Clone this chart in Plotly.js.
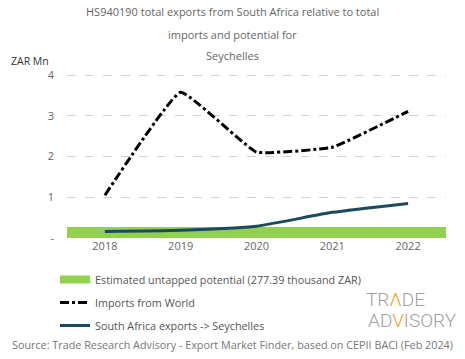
<!DOCTYPE html>
<html><head><meta charset="utf-8">
<script src="https://cdn.plot.ly/plotly-3.0.1.min.js"></script>
<style>html,body{margin:0;padding:0;background:#fff}#c{width:465px;height:359px}</style>
</head><body><div id="c"></div>
<script>
const years = ['2018','2019','2020','2021','2022'];
const importsWorld = [1.05, 3.58, 2.11, 2.23, 3.11];
const exportsSA = [0.16, 0.19, 0.29, 0.63, 0.85];
const untappedPotential = 0.27739; // ZAR Mn
const yTickVals = [0, 1, 2, 3, 4];
const yTickText = ['-', '1', '2', '3', '4'];
const titleLines = ['HS940190 total exports from South Africa relative to total', 'imports and potential for', 'Seychelles'];

const F = 'Open Sans, sans-serif';
const grey = '#666';
const green = '#92d050';

// plot area geometry (px) for placing annotations
const L = 67, T = 67, W = 379, H = 171;
const px = x => (x - L) / W;
const py = y => (T + H - y) / H;

const traces = [
  {type:'bar', x: years, y: years.map(()=>untappedPotential), showlegend:false,
   marker:{color:green}, width:1, hoverinfo:'skip'},
  {type:'scatter', mode:'lines', x:[null], y:[null], name:'Estimated untapped potential (277.39 thousand ZAR)',
   line:{color:green, width:8}, legendgroup:'a'},
  {type:'scatter', mode:'lines', x: years, y: importsWorld, name:'Imports from World', legendgroup:'b',
   line:{color:'#000', width:3, dash:'dashdot', shape:'spline', smoothing:0.3}},
  {type:'scatter', mode:'lines', x: years, y: exportsSA, name:'South Africa exports -> Seychelles', legendgroup:'c',
   line:{color:'#1b4a5e', width:3, shape:'spline', smoothing:0.5}}
];

const logoFont = {family:'Roboto, sans-serif', size:19, weight:300, color:'#a0a0a0'};
const annotations = titleLines.map((t, i) => ({
  text: t, xref:'paper', yref:'paper', x: px(232), y: py(12 + 22*i), xanchor:'center', yanchor:'middle',
  showarrow:false, font:{family:F, size:11, color:grey}
}));
annotations.push(
  {text:'ZAR Mn', xref:'paper', yref:'paper', x:px(9), y:py(61), xanchor:'left', yanchor:'middle', showarrow:false,
    font:{family:F, size:10.5, color:'#333'}},
  {text:'TR<span style="color:#f0a020">Λ</span>DE', xref:'paper', yref:'paper', x:px(364), y:py(299), xanchor:'left', yanchor:'middle', showarrow:false,
    font:logoFont},
  {text:'AD<span style="color:#f0a020">V</span>ISORY', xref:'paper', yref:'paper', x:px(366), y:py(320), xanchor:'left', yanchor:'middle', showarrow:false,
    font:logoFont},
  {text:'Source: Trade Research Advisory - Export Market Finder, based on CEPII BACI (Feb 2024)', xref:'paper', yref:'paper',
    x:px(232), y:py(344), xanchor:'center', yanchor:'middle', showarrow:false, font:{family:F, size:10.8, color:'#777'}}
);

const layout = {
  width:465, height:359,
  margin:{l:L, r:465-L-W, t:T, b:359-T-H, autoexpand:false},
  paper_bgcolor:'#fff', plot_bgcolor:'#fff',
  font:{family:F, size:11, color:grey},
  bargap:0,
  showlegend:true,
  legend:{orientation:'v', x:px(55), xanchor:'left', y:py(265), yanchor:'top', tracegroupgap:4,
    font:{family:F, size:10.8, color:'#555'}, itemwidth:30, traceorder:'grouped', bgcolor:'rgba(0,0,0,0)'},
  xaxis:{type:'category', range:[-0.5,4.5], showgrid:false, zeroline:false, showline:false, ticks:'',
    tickfont:{family:F, size:11, color:grey}, fixedrange:true},
  yaxis:{range:[0,4.2], tickvals:yTickVals, ticktext:yTickText, showgrid:true, gridcolor:'#d3d3d3', griddash:'dash', gridwidth:1,
    zeroline:false, showline:false, ticks:'', ticklabelstandoff:12, tickfont:{family:F, size:11, color:grey}},
  annotations
};
Plotly.newPlot('c', traces, layout, {displayModeBar:false, staticPlot:true});
</script></body></html>
